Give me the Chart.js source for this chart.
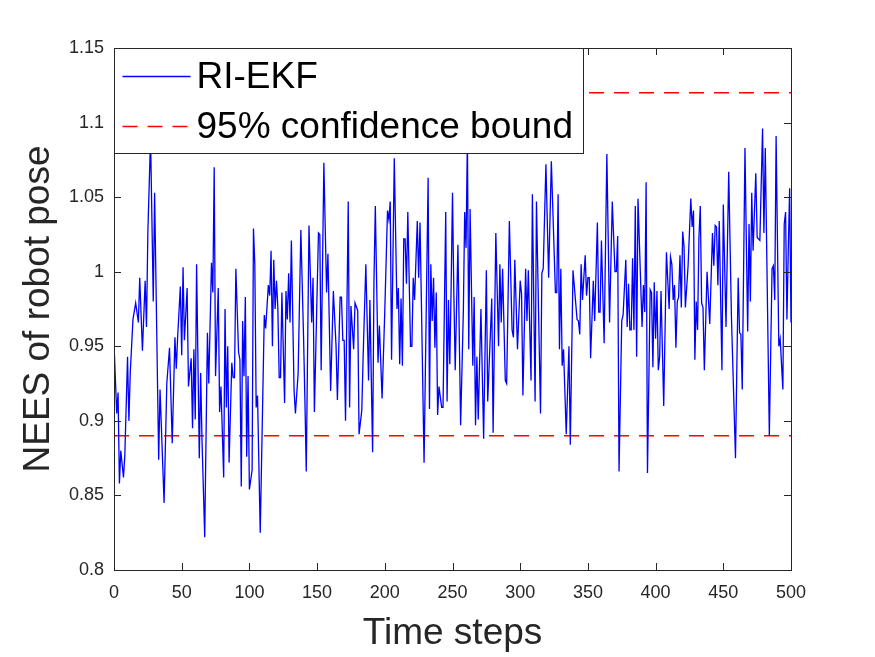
<!DOCTYPE html>
<html>
<head>
<meta charset="utf-8">
<script src="https://cdn.jsdelivr.net/npm/chart.js@4.4.1/dist/chart.umd.min.js"></script>
<style>
  body { margin: 0; background: #fff; }
  #wrap { width: 875px; height: 657px; }
</style>
</head>
<body>
<div id="wrap"><canvas id="neesChart" width="875" height="657"></canvas></div>
<script>
const steps = [
  0, 2, 3, 4, 5, 7, 8, 10, 11, 12, 14, 16, 18, 19, 21, 23, 24, 25, 27, 29,
  30, 33, 34, 37, 39, 41, 43, 45, 46, 47, 49, 50, 51, 52, 54, 55, 57, 58, 59, 60,
  61, 63, 64, 65, 67, 69, 70, 72, 73, 74, 75, 77, 78, 79, 81, 82, 83, 84, 85, 87,
  88, 89, 90, 92, 93, 94, 95, 96, 97, 98, 99, 100, 102, 103, 104, 105, 106, 108, 111, 112,
  114, 115, 116, 117, 118, 119, 120, 121, 122, 123, 124, 126, 127, 128, 129, 130, 131, 133, 134, 136,
  138, 140, 141, 142, 144, 146, 147, 148, 151, 152, 153, 155, 157, 158, 160, 162, 164, 165, 167, 168,
  169, 170, 171, 173, 174, 175, 177, 178, 180, 181, 183, 184, 186, 188, 189, 191, 192, 193, 195, 196,
  198, 200, 202, 203, 204, 205, 207, 209, 210, 211, 212, 213, 214, 215, 216, 217, 219, 220, 221, 222,
  224, 225, 226, 227, 229, 232, 233, 234, 235, 236, 237, 238, 239, 240, 242, 243, 245, 246, 247, 248,
  249, 250, 251, 252, 254, 256, 258, 259, 260, 261, 262, 263, 265, 266, 267, 268, 269, 271, 273, 275,
  276, 279, 280, 282, 284, 285, 286, 287, 289, 290, 292, 294, 295, 296, 298, 300, 301, 302, 304, 305,
  306, 308, 309, 311, 312, 315, 316, 317, 319, 321, 323, 326, 327, 328, 329, 330, 331, 332, 334, 336,
  337, 339, 342, 343, 344, 345, 346, 348, 349, 350, 351, 352, 354, 355, 357, 358, 359, 360, 362, 364,
  366, 368, 370, 371, 372, 373, 375, 376, 378, 379, 380, 381, 382, 383, 384, 385, 386, 387, 390, 391,
  392, 393, 394, 396, 397, 398, 399, 400, 401, 402, 403, 404, 406, 408, 410, 411, 412, 413, 414, 415,
  416, 417, 418, 419, 420, 421, 422, 424, 426, 427, 428, 429, 430, 431, 432, 433, 434, 435, 436, 438,
  440, 442, 443, 444, 445, 446, 447, 449, 450, 452, 454, 456, 459, 461, 462, 463, 464, 466, 468, 469,
  470, 471, 472, 474, 475, 477, 479, 480, 481, 484, 486, 487, 488, 489, 491, 492, 494, 495, 496, 497,
  498, 499, 500
];

const nees = [
  0.952, 0.905, 0.919, 0.858, 0.880, 0.862, 0.877, 0.943, 0.900, 0.932, 0.968, 0.979, 0.966, 0.996, 0.947, 0.994, 0.963, 1.026, 1.090, 0.980,
  1.053, 0.874, 0.921, 0.845, 0.925, 0.949, 0.885, 0.956, 0.935, 0.956, 0.990, 0.944, 1.003, 0.954, 0.989, 0.923, 0.942, 0.895, 0.948, 0.901,
  1.005, 0.875, 0.932, 0.887, 0.822, 0.959, 0.925, 1.006, 0.986, 1.070, 0.930, 0.989, 0.906, 0.923, 0.862, 0.975, 0.909, 0.950, 0.872, 0.939,
  0.929, 0.929, 1.002, 0.946, 0.941, 0.856, 0.967, 0.930, 0.983, 0.876, 0.930, 0.854, 0.867, 1.029, 1.005, 0.909, 0.917, 0.825, 0.971, 0.962,
  0.991, 0.984, 1.014, 0.950, 1.008, 0.975, 0.994, 0.976, 0.929, 0.929, 0.986, 0.912, 0.987, 0.968, 0.999, 0.966, 1.021, 0.920, 0.905, 0.932,
  1.028, 0.956, 0.914, 0.866, 1.031, 0.966, 0.996, 0.906, 1.026, 1.025, 0.934, 1.073, 0.986, 1.012, 0.920, 0.987, 0.950, 0.914, 0.983, 0.983,
  0.954, 0.954, 0.900, 1.047, 0.909, 0.977, 0.948, 0.979, 0.974, 0.891, 0.907, 0.943, 1.005, 0.927, 0.981, 0.879, 0.994, 1.044, 0.939, 0.964,
  0.915, 0.974, 1.041, 1.035, 1.047, 0.941, 1.076, 0.975, 0.989, 0.938, 0.982, 0.937, 1.022, 1.022, 0.992, 1.040, 0.950, 0.950, 0.996, 0.981,
  1.034, 0.996, 1.033, 0.981, 0.872, 1.063, 0.908, 1.005, 0.967, 0.996, 0.949, 0.986, 0.904, 0.923, 0.909, 0.909, 1.040, 0.913, 0.981, 0.938,
  0.990, 1.053, 0.985, 0.934, 1.018, 0.897, 0.973, 1.040, 1.016, 1.090, 0.948, 1.042, 0.937, 0.983, 0.897, 0.943, 0.901, 0.975, 0.888, 1.001,
  0.913, 0.982, 0.892, 1.026, 0.950, 1.005, 0.966, 1.002, 0.927, 0.925, 1.034, 0.961, 0.956, 1.008, 0.948, 0.994, 0.985, 0.917, 1.002, 0.967,
  1.001, 0.927, 1.052, 0.913, 1.047, 0.905, 0.999, 1.002, 1.072, 0.996, 1.074, 0.986, 0.986, 1.052, 0.948, 1.002, 0.937, 0.948, 0.891, 0.950,
  0.884, 1.001, 0.968, 0.967, 0.958, 1.005, 0.981, 1.011, 0.984, 0.996, 0.996, 0.942, 0.994, 0.967, 1.033, 0.973, 0.973, 1.021, 0.952, 1.079,
  0.966, 1.047, 1.000, 1.000, 1.024, 0.866, 0.967, 0.971, 1.008, 0.963, 0.992, 0.961, 0.961, 1.009, 0.961, 1.044, 0.943, 1.049, 0.963, 0.991,
  0.973, 1.060, 0.865, 0.988, 0.986, 0.936, 0.993, 0.955, 0.987, 0.934, 0.943, 0.987, 0.910, 1.013, 0.975, 1.010, 1.005, 0.981, 0.991, 0.949,
  0.980, 0.983, 1.011, 0.976, 1.027, 1.017, 0.976, 1.004, 1.049, 1.030, 1.041, 0.941, 0.980, 0.961, 1.023, 1.044, 0.979, 0.976, 0.934, 1.000,
  0.965, 1.026, 1.004, 1.031, 1.030, 0.991, 1.034, 0.934, 1.045, 0.963, 1.067, 0.970, 0.875, 0.996, 0.959, 0.958, 0.921, 1.083, 0.960, 1.032,
  0.980, 1.053, 1.014, 1.066, 1.023, 1.021, 1.096, 1.026, 1.083, 0.890, 1.002, 1.004, 0.981, 1.091, 0.950, 0.955, 0.921, 1.032, 1.040, 0.968,
  1.015, 1.056, 0.966
];

const boundSteps = [0, 500];
const lowerBound = [0.89, 0.89];
const upperBound = [1.12, 1.12];

const xTicks = [0, 50, 100, 150, 200, 250, 300, 350, 400, 450, 500];
const yTicks = [0.8, 0.85, 0.9, 0.95, 1, 1.05, 1.1, 1.15];

const axisColor = "#262626";
const fontFamily = "'Liberation Sans', Arial, Helvetica, sans-serif";
const dashPattern = [15, 10];

function toPoints(xs, ys) {
  return xs.map((x, i) => ({ x: x, y: ys[i] }));
}

// MATLAB style box, inward ticks and legend in the north-west corner
const matlabAxes = {
  id: "matlabAxes",
  afterDraw(chart) {
    const { ctx, chartArea: a, scales: { x, y } } = chart;
    ctx.save();
    ctx.strokeStyle = axisColor;
    ctx.lineWidth = 1;
    ctx.setLineDash([]);
    ctx.beginPath();
    xTicks.forEach(v => {
      const px = Math.round(x.getPixelForValue(v)) + 0.5;
      ctx.moveTo(px, a.bottom); ctx.lineTo(px, a.bottom - 7);
      ctx.moveTo(px, a.top); ctx.lineTo(px, a.top + 7);
    });
    yTicks.forEach(v => {
      const py = Math.round(y.getPixelForValue(v)) + 0.5;
      ctx.moveTo(a.left, py); ctx.lineTo(a.left + 7, py);
      ctx.moveTo(a.right, py); ctx.lineTo(a.right - 7, py);
    });
    ctx.stroke();
    ctx.strokeRect(Math.round(a.left) + 0.5, Math.round(a.top) + 0.5,
      Math.round(a.right - a.left), Math.round(a.bottom - a.top));

    // legend
    const lx = Math.round(a.left) + 0.5, ly = Math.round(a.top) + 0.5;
    const lw = 469, lh = 105;
    ctx.fillStyle = "#fff";
    ctx.fillRect(lx, ly, lw, lh);
    ctx.strokeRect(lx, ly, lw, lh);

    const rows = [
      { label: "RI-EKF", color: "#0000ff", dash: [], y: ly + 28 },
      { label: "95% confidence bound", color: "#ff0000", dash: dashPattern, y: ly + 78 }
    ];
    rows.forEach(r => {
      ctx.strokeStyle = r.color;
      ctx.lineWidth = 1.3;
      ctx.setLineDash(r.dash);
      ctx.beginPath();
      ctx.moveTo(lx + 8, r.y);
      ctx.lineTo(lx + 76, r.y);
      ctx.stroke();
      ctx.setLineDash([]);
      ctx.fillStyle = "#000";
      ctx.font = "37px " + fontFamily;
      ctx.textBaseline = "middle";
      ctx.fillText(r.label, lx + 82, r.y + 1);
    });
    ctx.restore();
  }
};

new Chart(document.getElementById("neesChart"), {
  type: "line",
  data: {
    datasets: [
      {
        label: "RI-EKF",
        data: toPoints(steps, nees),
        borderColor: "#0000ff",
        borderWidth: 1.3,
        pointRadius: 0,
        tension: 0
      },
      {
        label: "95% confidence bound",
        data: toPoints(boundSteps, lowerBound),
        borderColor: "#ff0000",
        borderWidth: 1.3,
        borderDash: dashPattern,
        pointRadius: 0
      },
      {
        label: "upper",
        data: toPoints(boundSteps, upperBound),
        borderColor: "#ff0000",
        borderWidth: 1.3,
        borderDash: dashPattern,
        pointRadius: 0
      }
    ]
  },
  options: {
    responsive: false,
    animation: false,
    devicePixelRatio: 1,
    layout: { padding: { left: 0, right: 84, top: 48, bottom: 0 } },
    plugins: {
      legend: { display: false },
      tooltip: { enabled: false }
    },
    scales: {
      x: {
        type: "linear",
        min: 0,
        max: 500,
        grid: { display: false, drawTicks: false },
        border: { display: false },
        afterFit: s => { s.height = 87; },
        afterBuildTicks: s => { s.ticks = xTicks.map(v => ({ value: v })); },
        ticks: {
          color: axisColor,
          padding: 12,
          maxRotation: 0,
          font: { family: fontFamily, size: 18 },
          callback: v => String(v)
        },
        title: {
          display: true,
          text: "Time steps",
          color: axisColor,
          padding: { top: 0, bottom: 1 },
          font: { family: fontFamily, size: 37 }
        }
      },
      y: {
        type: "linear",
        min: 0.8,
        max: 1.15,
        grid: { display: false, drawTicks: false },
        border: { display: false },
        afterFit: s => { s.width = 114; },
        afterBuildTicks: s => { s.ticks = yTicks.map(v => ({ value: v })); },
        ticks: {
          color: axisColor,
          padding: 10,
          font: { family: fontFamily, size: 18 },
          callback: v => String(Math.round(v * 100) / 100)
        },
        title: {
          display: true,
          text: "NEES of robot pose",
          color: axisColor,
          padding: { top: 17, bottom: 0 },
          font: { family: fontFamily, size: 37 }
        }
      }
    }
  },
  plugins: [matlabAxes]
});
</script>
</body>
</html>
